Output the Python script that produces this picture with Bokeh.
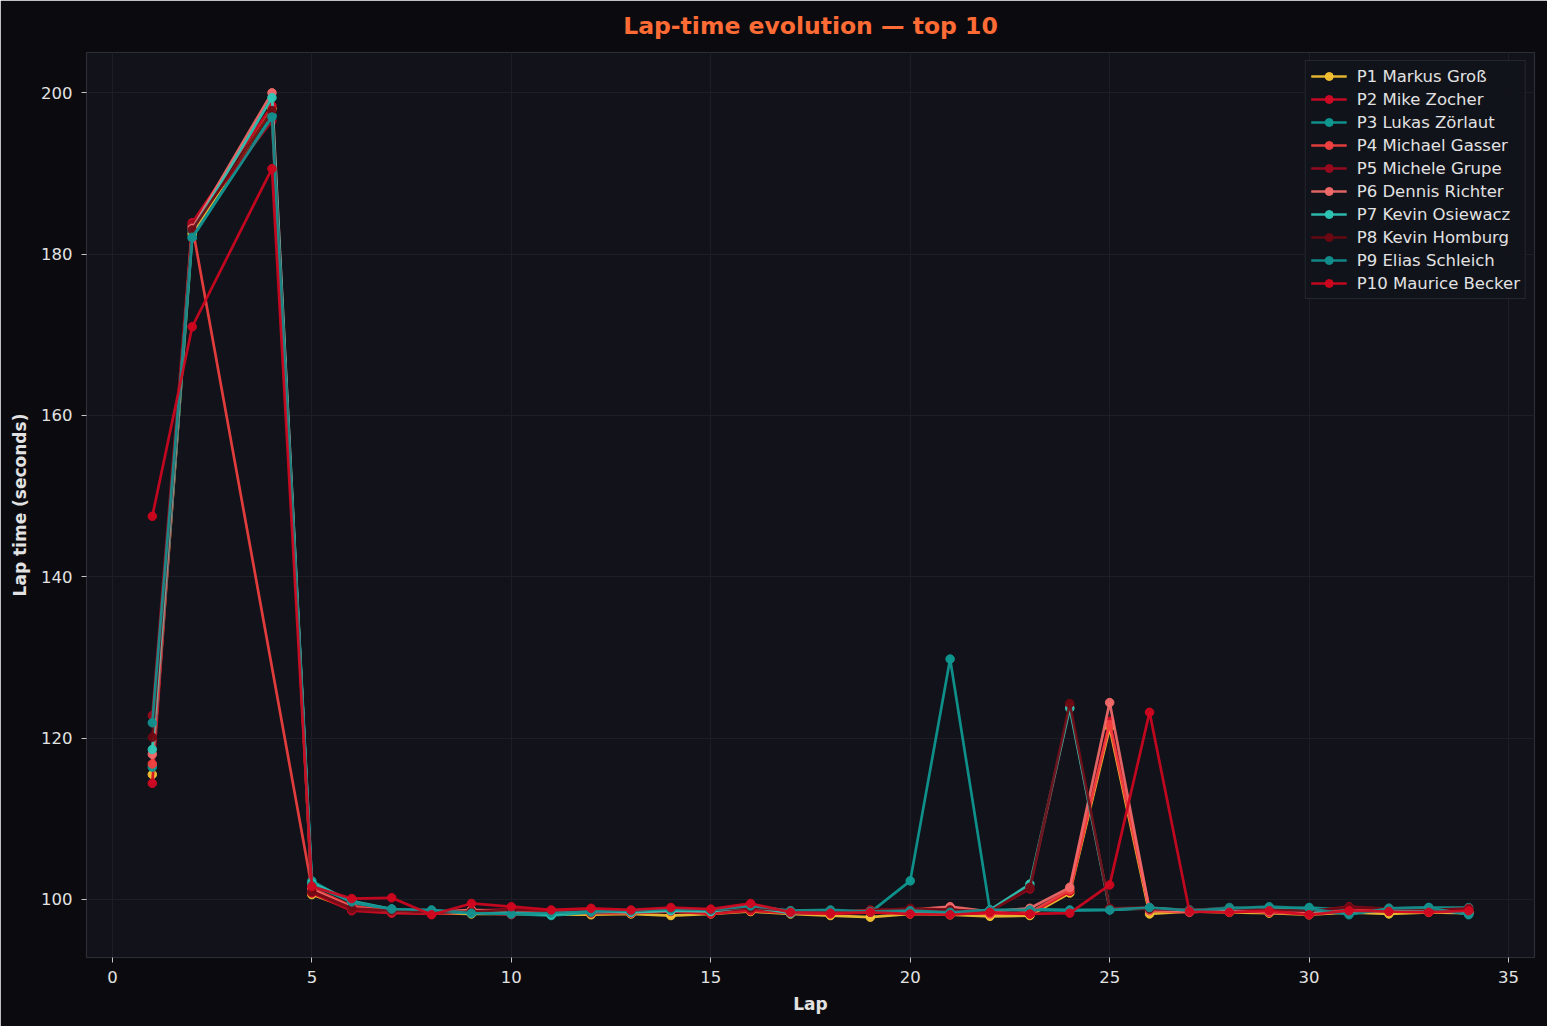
from bokeh.plotting import figure
from bokeh.embed import file_html
from bokeh.resources import INLINE
from bokeh.models import FixedTicker, Range1d

# ---- data ----
drivers = ["P1 Markus Groß", "P2 Mike Zocher", "P3 Lukas Zörlaut", "P4 Michael Gasser",
           "P5 Michele Grupe", "P6 Dennis Richter", "P7 Kevin Osiewacz", "P8 Kevin Homburg",
           "P9 Elias Schleich", "P10 Maurice Becker"]
colors = ["#f5c232", "#d20a25", "#0e9a92", "#f2403f", "#9c0a1e",
          "#f46a6a", "#2ec7b6", "#6e0812", "#12908e", "#d0061f"]

laps_std = [1, 2, 4] + list(range(5, 35))
laps_p4 = [1, 2] + list(range(5, 35))

p1_times = [115.5, 182.5, 198.0, 100.6, 98.8, 98.4, 98.3, 98.2, 98.2, 98.1, 98.1, 98.2, 98.0, 98.2, 98.5, 98.2, 98.0, 97.8, 98.2, 98.1, 97.9, 98.0, 100.8, 121.3, 98.2, 98.5, 98.4, 98.3, 98.1, 98.4, 98.2, 98.4, 98.3]
p2_times = [114.4, 183.9, 198.4, 100.8, 98.6, 98.3, 98.2, 98.4, 98.1, 98.5, 98.3, 98.3, 98.5, 98.2, 98.6, 98.3, 98.2, 98.4, 98.3, 98.2, 98.3, 98.2, 101.0, 122.1, 98.8, 98.5, 98.6, 98.4, 98.2, 98.5, 98.6, 98.5, 98.6]
p3_times = [116.4, 182.0, 197.2, 102.3, 99.6, 98.7, 98.6, 98.4, 98.2, 98.0, 98.4, 98.5, 98.7, 98.6, 99.0, 98.6, 98.6, 98.4, 102.3, 129.8, 98.6, 98.8, 98.7, 98.7, 98.9, 98.6, 99.0, 98.8, 99.0, 98.7, 98.9, 99.0, 99.0]
p4_times = [116.8, 183.5, 101.4, 99.2, 98.5, 98.4, 98.6, 98.3, 98.6, 98.5, 98.4, 98.6, 98.5, 99.2, 98.4, 98.3, 98.5, 98.4, 98.6, 98.2, 98.4, 101.2, 121.7, 98.6, 98.4, 98.7, 98.5, 98.3, 98.6, 98.7, 98.6, 98.5]
p5_times = [122.8, 183.7, 196.5, 100.9, 98.7, 98.5, 98.3, 98.6, 98.8, 98.4, 98.6, 98.5, 98.8, 98.6, 98.9, 98.5, 98.4, 98.7, 98.8, 98.5, 98.6, 101.3, 123.9, 98.9, 99.0, 98.6, 98.8, 99.0, 98.5, 99.1, 98.8, 98.7, 98.9]
p6_times = [118.0, 183.2, 200.0, 101.2, 99.0, 98.6, 98.4, 98.7, 98.5, 98.6, 98.7, 98.5, 98.8, 98.7, 99.3, 98.5, 98.4, 98.6, 98.7, 99.1, 98.5, 98.9, 101.5, 124.4, 98.7, 98.5, 98.6, 98.5, 98.3, 98.4, 98.6, 98.5, 98.4]
p7_times = [118.6, 182.9, 199.4, 102.0, 99.8, 98.8, 98.5, 98.3, 98.4, 98.1, 98.6, 98.4, 98.6, 98.5, 99.1, 98.3, 98.5, 98.5, 98.4, 98.3, 98.7, 101.9, 123.7, 98.8, 98.9, 98.7, 98.8, 98.9, 98.6, 98.3, 98.7, 98.8, 98.2]
p8_times = [120.1, 183.0, 197.8, 101.0, 98.9, 98.6, 98.4, 98.5, 98.7, 98.6, 98.8, 98.6, 98.9, 98.7, 99.0, 98.6, 98.5, 98.6, 98.9, 98.7, 98.5, 101.5, 124.3, 98.9, 98.8, 98.7, 98.9, 98.7, 98.6, 99.0, 98.9, 98.8, 98.7]
p9_times = [121.9, 182.1, 197.0, 101.8, 99.7, 98.8, 98.7, 98.3, 98.2, 98.3, 98.5, 98.6, 98.8, 98.7, 99.2, 98.6, 98.7, 98.5, 98.6, 98.4, 98.7, 98.7, 98.6, 98.7, 99.0, 98.6, 98.9, 99.1, 98.9, 98.1, 98.9, 99.0, 98.1]
p10_times = [147.5, 171.0, 190.6, 101.6, 100.1, 100.2, 98.1, 99.5, 99.1, 98.7, 98.9, 98.7, 99.0, 98.8, 99.5, 98.4, 98.3, 98.4, 98.2, 98.1, 98.4, 98.2, 98.3, 101.8, 123.2, 98.5, 98.4, 98.6, 98.1, 98.6, 98.5, 98.4, 98.6]

series_laps = [laps_std, laps_std, laps_std, laps_p4, laps_std, laps_std, laps_std, laps_std, laps_std, laps_std]
series_times = [p1_times, p2_times, p3_times, p4_times, p5_times, p6_times, p7_times, p8_times, p9_times, p10_times]

x_ticks = [0, 5, 10, 15, 20, 25, 30, 35]
y_ticks = [100, 120, 140, 160, 180, 200]

# ---- styling ----
PAGE_BG = "#0b0b0f"
PLOT_BG = "#12131a"
TXT = "#e2e2e2"
FONT = "DejaVu Sans"

p = figure(width=1547, height=1026, output_backend="svg", toolbar_location=None,
           x_range=Range1d(-0.65, 35.65), y_range=Range1d(92.8, 205.0),
           min_border_left=86, min_border_right=13, min_border_top=52, min_border_bottom=69)
p.background_fill_color = PLOT_BG
p.border_fill_color = PAGE_BG
p.outline_line_color = "#2c2d36"
p.outline_line_width = 1.2

p.title.text = "Lap-time evolution — top 10"
p.title.align = "center"
p.title.text_color = "#ff6b35"
p.title.text_font = FONT
p.title.text_font_size = "23.5px"
p.title.text_font_style = "bold"
p.title.vertical_align = "top"
p.title.standoff = 22

for ax in (p.xaxis, p.yaxis):
    ax.axis_line_color = None
    ax.major_tick_line_color = "#c8c8c8"
    ax.major_tick_out = 5
    ax.major_tick_in = 0
    ax.minor_tick_line_color = None
    ax.major_label_text_color = TXT
    ax.major_label_text_font = FONT
    ax.major_label_text_font_size = "16.5px"
    ax.axis_label_text_color = TXT
    ax.axis_label_text_font = FONT
    ax.axis_label_text_font_size = "17px"
    ax.axis_label_text_font_style = "bold"

p.xaxis.ticker = FixedTicker(ticks=x_ticks)
p.yaxis.ticker = FixedTicker(ticks=y_ticks)
p.xaxis.axis_label = "Lap"
p.yaxis.axis_label = "Lap time (seconds)"
p.xaxis.major_label_standoff = 8
p.yaxis.major_label_standoff = 9
p.xaxis.axis_label_standoff = 8
p.yaxis.axis_label_standoff = 8

p.xgrid.grid_line_color = "#1d1e26"
p.ygrid.grid_line_color = "#1d1e26"
p.xgrid.grid_line_width = 1
p.ygrid.grid_line_width = 1

for name, col, lx, ly in zip(drivers, colors, series_laps, series_times):
    p.line(lx, ly, line_color=col, line_width=2.7, line_alpha=0.92, legend_label=name)
    p.scatter(lx, ly, size=8.5, fill_color=col, line_color=col, fill_alpha=0.95,
              line_alpha=0.95, legend_label=name)

lg = p.legend[0]
lg.location = "top_right"
lg.margin = 8
lg.padding = 5
lg.spacing = 3
lg.glyph_height = 20
lg.glyph_width = 36
lg.label_height = 20
lg.label_standoff = 10
lg.label_text_font = FONT
lg.label_text_font_size = "16.5px"
lg.label_text_color = TXT
lg.background_fill_color = PLOT_BG
lg.background_fill_alpha = 0.95
lg.border_line_color = "#3a3b44"
lg.border_line_width = 1.2

html = file_html(p, INLINE)
html = html.replace("<body>", '<body style="background:%s;">' % PAGE_BG, 1)
open("out.html", "w").write(html)
